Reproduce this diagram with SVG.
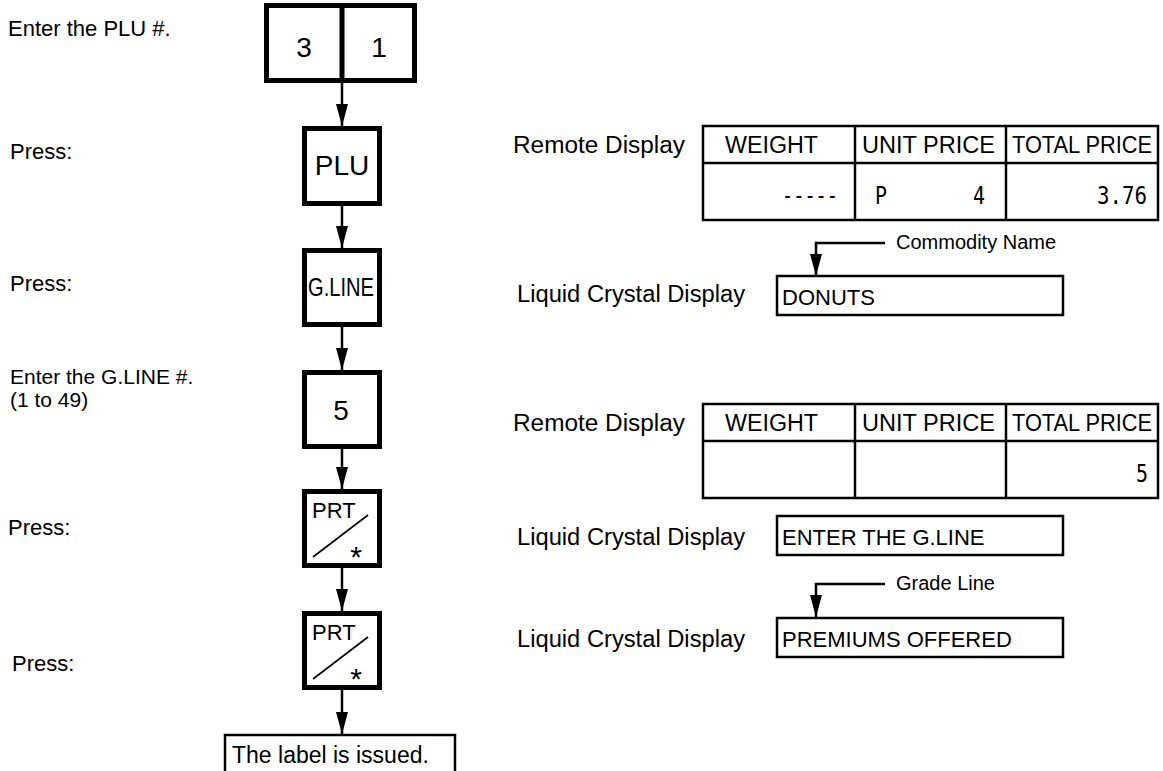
<svg xmlns="http://www.w3.org/2000/svg" width="1163" height="771" viewBox="0 0 1163 771">
<style>
.lbl{font-family:"Liberation Sans",Arial,sans-serif;font-size:22px;fill:#000}
.key{fill:#fff;stroke:#000;stroke-width:5}
.kt{font-family:"Liberation Sans",Arial,sans-serif;font-size:28px;fill:#000;text-anchor:middle}
.prt{font-family:"Liberation Sans",Arial,sans-serif;font-size:22px;fill:#000}
.ast{font-family:"Liberation Sans",Arial,sans-serif;font-size:30px;fill:#000;text-anchor:middle}
.tb{fill:none;stroke:#000;stroke-width:2.5}
.hd{font-family:"Liberation Sans",Arial,sans-serif;font-size:23px;fill:#000}
.mono{font-family:"DejaVu Sans Mono","Liberation Mono",monospace;font-size:24px;fill:#000}
.lcd{font-family:"Liberation Sans",Arial,sans-serif;font-size:22px;fill:#000}
.note{font-family:"Liberation Sans",Arial,sans-serif;font-size:20px;fill:#000}
.conn{fill:none;stroke:#000;stroke-width:2.5}
</style>
<defs>
<marker id="ah" markerWidth="22" markerHeight="12" refX="22" refY="6" orient="auto" markerUnits="userSpaceOnUse" viewBox="0 0 22 12">
<path d="M0,0 L22,6 L0,12 Z" fill="#000"/>
</marker>
</defs>
<rect width="1163" height="771" fill="#fff"/>

<g id="labels-left">
<text class="lbl" x="8" y="36">Enter the PLU #.</text>
<text class="lbl" x="10" y="159">Press:</text>
<text class="lbl" x="10" y="291">Press:</text>
<text class="lbl" x="10" y="384" style="font-size:21px">Enter the G.LINE #.</text>
<text class="lbl" x="10" y="407" style="font-size:21px">(1 to 49)</text>
<text class="lbl" x="8" y="535">Press:</text>
<text class="lbl" x="12" y="671">Press:</text>
</g>

<g id="connectors">
<line class="conn" x1="342" y1="83" x2="342" y2="126" marker-end="url(#ah)"/>
<line class="conn" x1="342" y1="206" x2="342" y2="248" marker-end="url(#ah)"/>
<line class="conn" x1="342" y1="327" x2="342" y2="370" marker-end="url(#ah)"/>
<line class="conn" x1="342" y1="449" x2="342" y2="489" marker-end="url(#ah)"/>
<line class="conn" x1="342" y1="568" x2="342" y2="611" marker-end="url(#ah)"/>
<line class="conn" x1="342" y1="690" x2="342" y2="734" marker-end="url(#ah)"/>
<path class="conn" d="M885,243 H816 V276" marker-end="url(#ah)"/>
<path class="conn" d="M885,584 H816 V617" marker-end="url(#ah)"/>
</g>

<g id="key-31">
<rect class="key" x="266.5" y="5.5" width="148" height="75"/>
<line x1="342" y1="3" x2="342" y2="83" stroke="#000" stroke-width="5"/>
<text class="kt" x="304" y="57">3</text>
<text class="kt" x="379" y="57">1</text>
</g>

<g id="key-plu">
<rect class="key" x="304.5" y="128.5" width="75" height="75"/>
<text class="kt" x="342" y="175">PLU</text>
</g>

<g id="key-gline">
<rect class="key" x="304.5" y="250.5" width="75" height="74"/>
<text class="kt" x="341" y="296" style="font-size:25px" textLength="66" lengthAdjust="spacingAndGlyphs">G.LINE</text>
</g>

<g id="key-5">
<rect class="key" x="304.5" y="372.5" width="75" height="74"/>
<text class="kt" x="341" y="420">5</text>
</g>

<g id="key-prt1">
<rect class="key" x="304.5" y="491.5" width="75" height="74"/>
<text class="prt" x="312" y="518">PRT</text>
<line x1="313" y1="557" x2="368" y2="515" stroke="#000" stroke-width="1.6"/>
<text class="ast" x="356" y="567">*</text>
</g>

<g id="key-prt2">
<rect class="key" x="304.5" y="613.5" width="75" height="74"/>
<text class="prt" x="312" y="640">PRT</text>
<line x1="313" y1="679" x2="368" y2="637" stroke="#000" stroke-width="1.6"/>
<text class="ast" x="356" y="689">*</text>
</g>

<g id="result">
<path d="M225,771 V735 H455 V771" fill="none" stroke="#000" stroke-width="2.5"/>
<text class="lbl" x="232" y="763" style="font-size:23px">The label is issued.</text>
</g>

<g id="remote1">
<text class="lbl" x="513" y="153" textLength="172" lengthAdjust="spacingAndGlyphs" style="font-size:23px">Remote Display</text>
<rect class="tb" x="703" y="126" width="455" height="94"/>
<line class="tb" x1="703" y1="163" x2="1158" y2="163"/>
<line class="tb" x1="855" y1="126" x2="855" y2="220"/>
<line class="tb" x1="1006" y1="126" x2="1006" y2="220"/>
<text class="hd" x="725" y="153" textLength="93" lengthAdjust="spacingAndGlyphs">WEIGHT</text>
<text class="hd" x="862" y="153" textLength="133" lengthAdjust="spacingAndGlyphs">UNIT PRICE</text>
<text class="hd" x="1012" y="153" textLength="140" lengthAdjust="spacingAndGlyphs">TOTAL PRICE</text>
<text class="mono" x="782" y="204" textLength="56" lengthAdjust="spacingAndGlyphs">-----</text>
<text class="mono" x="875" y="204" textLength="12" lengthAdjust="spacingAndGlyphs">P</text>
<text class="mono" x="973" y="204" textLength="12" lengthAdjust="spacingAndGlyphs">4</text>
<text class="mono" x="1097" y="204" textLength="50" lengthAdjust="spacingAndGlyphs">3.76</text>
</g>

<g id="lcd1">
<text class="note" x="896" y="249">Commodity Name</text>
<text class="lbl" x="517" y="302" textLength="228" lengthAdjust="spacingAndGlyphs" style="font-size:23px">Liquid Crystal Display</text>
<rect class="tb" x="777" y="276" width="286" height="39"/>
<text class="lcd" x="782" y="305">DONUTS</text>
</g>

<g id="remote2">
<text class="lbl" x="513" y="431" textLength="172" lengthAdjust="spacingAndGlyphs" style="font-size:23px">Remote Display</text>
<rect class="tb" x="703" y="404" width="455" height="94"/>
<line class="tb" x1="703" y1="441" x2="1158" y2="441"/>
<line class="tb" x1="855" y1="404" x2="855" y2="498"/>
<line class="tb" x1="1006" y1="404" x2="1006" y2="498"/>
<text class="hd" x="725" y="431" textLength="93" lengthAdjust="spacingAndGlyphs">WEIGHT</text>
<text class="hd" x="862" y="431" textLength="133" lengthAdjust="spacingAndGlyphs">UNIT PRICE</text>
<text class="hd" x="1012" y="431" textLength="140" lengthAdjust="spacingAndGlyphs">TOTAL PRICE</text>
<text class="mono" x="1136" y="482" textLength="12" lengthAdjust="spacingAndGlyphs">5</text>
</g>

<g id="lcd2">
<text class="lbl" x="517" y="545" textLength="228" lengthAdjust="spacingAndGlyphs" style="font-size:23px">Liquid Crystal Display</text>
<rect class="tb" x="777" y="516" width="286" height="39"/>
<text class="lcd" x="782" y="545">ENTER THE G.LINE</text>
</g>

<g id="lcd3">
<text class="note" x="896" y="590">Grade Line</text>
<text class="lbl" x="517" y="647" textLength="228" lengthAdjust="spacingAndGlyphs" style="font-size:23px">Liquid Crystal Display</text>
<rect class="tb" x="777" y="618" width="286" height="39"/>
<text class="lcd" x="782" y="647">PREMIUMS OFFERED</text>
</g>
</svg>
